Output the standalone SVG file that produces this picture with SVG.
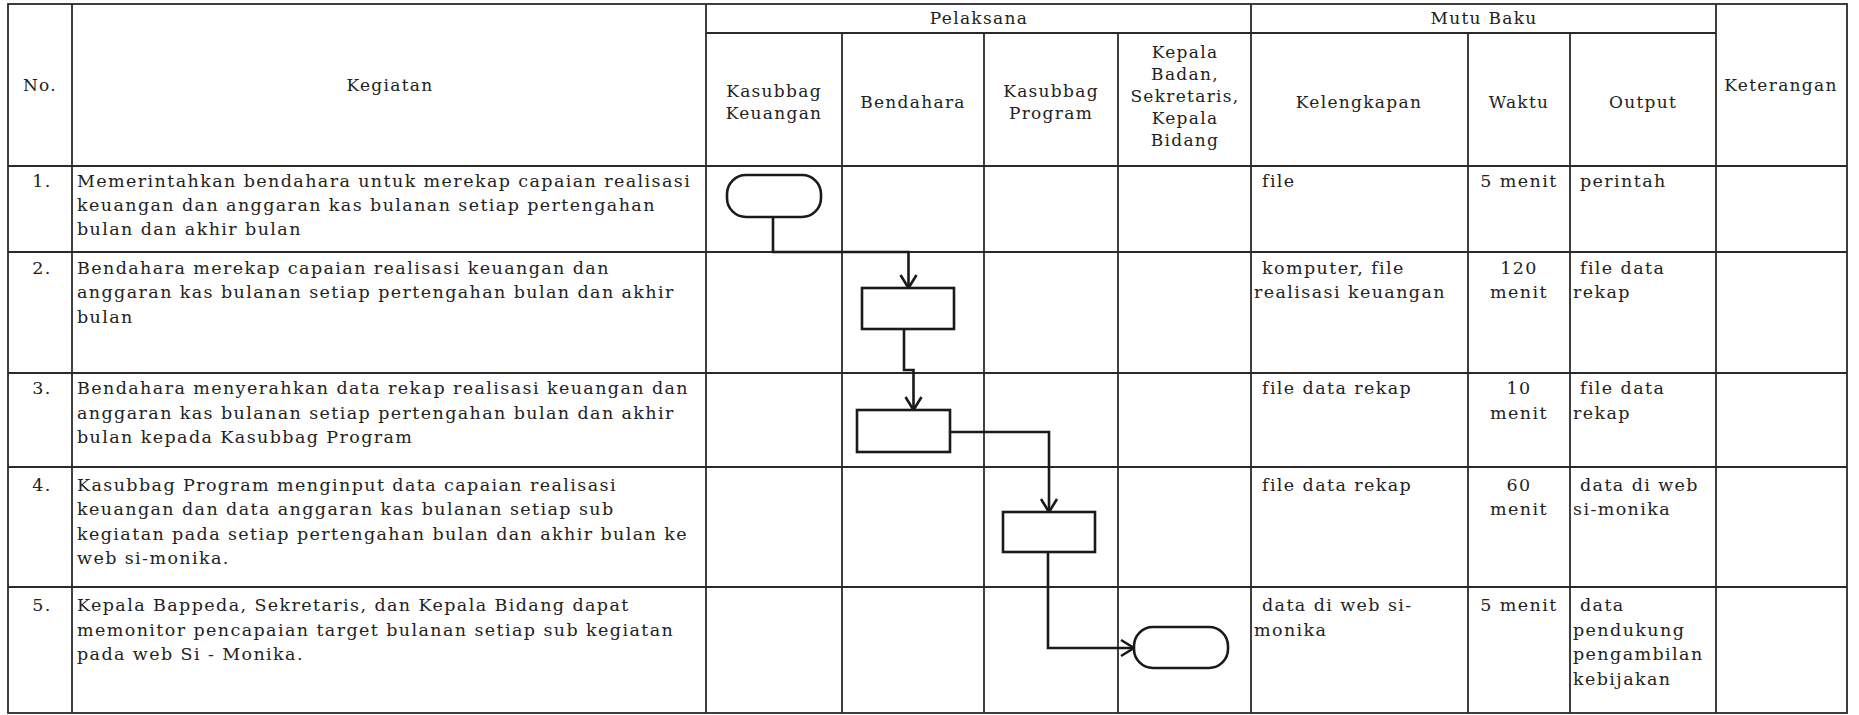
<svg xmlns="http://www.w3.org/2000/svg" width="1859" height="715" viewBox="0 0 1859 715">
<style>
.bg{fill:#fff}
.g{stroke:#2a2a2a;stroke-width:1.8;fill:none}
.t{font-family:"DejaVu Serif","Liberation Serif",serif;font-size:17.5px;letter-spacing:1.4px;fill:#222}
.h{font-family:"DejaVu Serif","Liberation Serif",serif;font-size:17px;letter-spacing:1.3px;fill:#222}
.m{text-anchor:middle}
.n{fill:#fff;stroke:#1a1a1a;stroke-width:2.6}
.c{fill:none;stroke:#1a1a1a;stroke-width:2.6;stroke-linejoin:miter}
</style>
<defs>
<marker id="arr" markerUnits="userSpaceOnUse" viewBox="-2 -2 18 20" refX="13" refY="8" markerWidth="18" markerHeight="20" orient="auto" overflow="visible">
<path d="M0,0 L13,8 L0,16" fill="none" stroke="#1a1a1a" stroke-width="2.6"/>
</marker>
</defs>
<rect class="bg" x="0" y="0" width="1859" height="715"/>
<g id="table">
<rect class="g" x="8" y="4" width="1839" height="709"/>
<line class="g" x1="706" y1="33" x2="1716" y2="33"/>
<line class="g" x1="8" y1="166" x2="1847" y2="166"/>
<line class="g" x1="8" y1="252" x2="1847" y2="252"/>
<line class="g" x1="8" y1="373" x2="1847" y2="373"/>
<line class="g" x1="8" y1="467" x2="1847" y2="467"/>
<line class="g" x1="8" y1="587" x2="1847" y2="587"/>
<line class="g" x1="72" y1="4" x2="72" y2="713"/>
<line class="g" x1="706" y1="4" x2="706" y2="713"/>
<line class="g" x1="842" y1="33" x2="842" y2="713"/>
<line class="g" x1="984" y1="33" x2="984" y2="713"/>
<line class="g" x1="1118" y1="33" x2="1118" y2="713"/>
<line class="g" x1="1251" y1="4" x2="1251" y2="713"/>
<line class="g" x1="1468" y1="33" x2="1468" y2="713"/>
<line class="g" x1="1570" y1="33" x2="1570" y2="713"/>
<line class="g" x1="1716" y1="4" x2="1716" y2="713"/>
</g>
<g id="header">
<text class="h m" x="40" y="91">No.</text>
<text class="h m" x="390" y="91">Kegiatan</text>
<text class="h m" x="979" y="24">Pelaksana</text>
<text class="h m" x="1484" y="24">Mutu Baku</text>
<text class="h m" x="774" y="97">Kasubbag</text>
<text class="h m" x="774" y="119">Keuangan</text>
<text class="h m" x="913" y="108">Bendahara</text>
<text class="h m" x="1051" y="97">Kasubbag</text>
<text class="h m" x="1051" y="119">Program</text>
<text class="h m" x="1185" y="58">Kepala</text>
<text class="h m" x="1185" y="80">Badan,</text>
<text class="h m" x="1185" y="102">Sekretaris,</text>
<text class="h m" x="1185" y="124">Kepala</text>
<text class="h m" x="1185" y="146">Bidang</text>
<text class="h m" x="1359" y="108">Kelengkapan</text>
<text class="h m" x="1519" y="108">Waktu</text>
<text class="h m" x="1643" y="108">Output</text>
<text class="h m" x="1781" y="91">Keterangan</text>
</g>
<g id="row1">
<text class="t m" x="42" y="187">1.</text>
<text class="t" x="77" y="187">Memerintahkan bendahara untuk merekap capaian realisasi</text>
<text class="t" x="77" y="211">keuangan dan anggaran kas bulanan setiap pertengahan</text>
<text class="t" x="77" y="235">bulan dan akhir bulan</text>
<text class="t" x="1262" y="187">file</text>
<text class="t m" x="1519" y="187">5 menit</text>
<text class="t" x="1580" y="187">perintah</text>
</g>
<g id="row2">
<text class="t m" x="42" y="274">2.</text>
<text class="t" x="77" y="274">Bendahara merekap capaian realisasi keuangan dan</text>
<text class="t" x="77" y="298">anggaran kas bulanan setiap pertengahan bulan dan akhir</text>
<text class="t" x="77" y="323">bulan</text>
<text class="t" x="1262" y="274">komputer, file</text>
<text class="t" x="1254" y="298">realisasi keuangan</text>
<text class="t m" x="1519" y="274">120</text>
<text class="t m" x="1519" y="298">menit</text>
<text class="t" x="1580" y="274">file data</text>
<text class="t" x="1573" y="298">rekap</text>
</g>
<g id="row3">
<text class="t m" x="42" y="394">3.</text>
<text class="t" x="77" y="394">Bendahara menyerahkan data rekap realisasi keuangan dan</text>
<text class="t" x="77" y="419">anggaran kas bulanan setiap pertengahan bulan dan akhir</text>
<text class="t" x="77" y="443">bulan kepada Kasubbag Program</text>
<text class="t" x="1262" y="394">file data rekap</text>
<text class="t m" x="1519" y="394">10</text>
<text class="t m" x="1519" y="419">menit</text>
<text class="t" x="1580" y="394">file data</text>
<text class="t" x="1573" y="419">rekap</text>
</g>
<g id="row4">
<text class="t m" x="42" y="491">4.</text>
<text class="t" x="77" y="491">Kasubbag Program menginput data capaian realisasi</text>
<text class="t" x="77" y="515">keuangan dan data anggaran kas bulanan setiap sub</text>
<text class="t" x="77" y="540">kegiatan pada setiap pertengahan bulan dan akhir bulan ke</text>
<text class="t" x="77" y="564">web si-monika.</text>
<text class="t" x="1262" y="491">file data rekap</text>
<text class="t m" x="1519" y="491">60</text>
<text class="t m" x="1519" y="515">menit</text>
<text class="t" x="1580" y="491">data di web</text>
<text class="t" x="1573" y="515">si-monika</text>
</g>
<g id="row5">
<text class="t m" x="42" y="611">5.</text>
<text class="t" x="77" y="611">Kepala Bappeda, Sekretaris, dan Kepala Bidang dapat</text>
<text class="t" x="77" y="636">memonitor pencapaian target bulanan setiap sub kegiatan</text>
<text class="t" x="77" y="660">pada web Si - Monika.</text>
<text class="t" x="1262" y="611">data di web si-</text>
<text class="t" x="1254" y="636">monika</text>
<text class="t m" x="1519" y="611">5 menit</text>
<text class="t" x="1580" y="611">data</text>
<text class="t" x="1573" y="636">pendukung</text>
<text class="t" x="1573" y="660">pengambilan</text>
<text class="t" x="1573" y="685">kebijakan</text>
</g>
<g id="connectors">
<path class="c" d="M773,217 V252 H908.5 V288" marker-end="url(#arr)"/>
<path class="c" d="M904,329 V370 H913.5 V410" marker-end="url(#arr)"/>
<path class="c" d="M950,432 H1049 V512" marker-end="url(#arr)"/>
<path class="c" d="M1048,552 V648 H1134" marker-end="url(#arr)"/>
</g>
<g id="node-start">
<rect class="n" x="727" y="175" width="94" height="42" rx="19" ry="19"/>
</g>
<g id="node-rekap">
<rect class="n" x="862" y="288" width="92" height="41"/>
</g>
<g id="node-serah">
<rect class="n" x="857" y="410" width="93" height="42"/>
</g>
<g id="node-input">
<rect class="n" x="1003" y="512" width="92" height="40"/>
</g>
<g id="node-end">
<rect class="n" x="1134" y="627" width="94" height="41" rx="19" ry="19"/>
</g>
</svg>
